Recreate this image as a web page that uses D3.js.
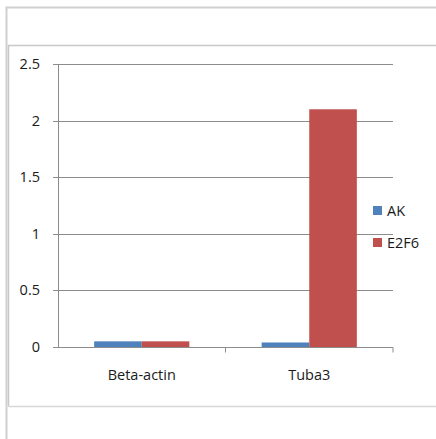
<!DOCTYPE html>
<html>
<head>
<meta charset="utf-8">
<script src="https://cdn.jsdelivr.net/npm/d3@7"></script>
<style>
  body { margin: 0; background: #fff; }
  text { font-family: "Open Sans", "Noto Sans", sans-serif; fill: #1a1a1a; }
</style>
</head>
<body>
<div id="chart"></div>
<script>
var width = 436;
var height = 439;

//Data
var categories = ["Beta-actin", "Tuba3"];
var seriesNames = ["AK", "E2F6"];
var akValues = [0.05, 0.04];
var e2f6Values = [0.05, 2.1];
var yTicks = [0, 0.5, 1, 1.5, 2, 2.5];
var colours = ["#4F81BD", "#C0504D"];

var svg = d3.select("#chart")
  .append("svg")
  .attr("width", width)
  .attr("height", height);

//Outer frame and inner chart area
svg.append("path")
  .attr("d", "M6.5,439 V7.5 H436")
  .attr("fill", "none")
  .attr("stroke", "#d0d0d0")
  .attr("stroke-width", 2);
svg.append("path")
  .attr("d", "M8.5,406.5 V45.5 H436")
  .attr("fill", "none")
  .attr("stroke", "#c8c8c8")
  .attr("stroke-width", 1.5);
svg.append("line")
  .attr("x1", 8.5).attr("x2", 436)
  .attr("y1", 406.5).attr("y2", 406.5)
  .attr("stroke", "#d8d8d8").attr("stroke-width", 1.5);

var plotLeft = 58, plotRight = 393, plotTop = 64, plotBottom = 347;

var x0 = d3.scaleBand()
  .domain(categories)
  .range([plotLeft, plotRight])
  .paddingInner(0)
  .paddingOuter(0);

var x1 = d3.scaleBand()
  .domain(seriesNames)
  .range([0, x0.bandwidth()])
  .paddingInner(0)
  .paddingOuter(0.76);

var y = d3.scaleLinear()
  .domain([0, 2.5])
  .range([plotBottom, plotTop]);

//Gridlines
svg.append("g")
  .selectAll("line")
  .data(yTicks)
  .enter().append("line")
  .attr("x1", plotLeft - 5)
  .attr("x2", plotRight)
  .attr("y1", function(d) { return Math.round(y(d)) + 0.5; })
  .attr("y2", function(d) { return Math.round(y(d)) + 0.5; })
  .attr("stroke", "#8c8c8c")
  .attr("stroke-width", 1);

//Y axis line
svg.append("line")
  .attr("x1", plotLeft + 0.5).attr("x2", plotLeft + 0.5)
  .attr("y1", plotTop).attr("y2", plotBottom)
  .attr("stroke", "#8c8c8c");

//Y labels
svg.append("g")
  .selectAll("text")
  .data(yTicks)
  .enter().append("text")
  .attr("x", 40)
  .attr("y", function(d) { return y(d); })
  .attr("dy", "0.35em")
  .attr("text-anchor", "end")
  .style("font-size", "14.5px")
  .text(function(d) { return d; });

//Bars
var data = categories.map(function(c, i) {
  return { cat: c, vals: [akValues[i], e2f6Values[i]] };
});

var groups = svg.append("g")
  .selectAll("g")
  .data(data)
  .enter().append("g")
  .attr("transform", function(d) { return "translate(" + x0(d.cat) + ",0)"; });

groups.selectAll("rect")
  .data(function(d) { return d.vals.map(function(v, j) { return { name: seriesNames[j], v: v, j: j }; }); })
  .enter().append("rect")
  .attr("x", function(d) { return x1(d.name); })
  .attr("width", x1.bandwidth())
  .attr("y", function(d) { return y(d.v); })
  .attr("height", function(d) { return plotBottom - y(d.v); })
  .attr("fill", function(d) { return colours[d.j]; });

//X axis
var xAxis = d3.axisBottom(x0).tickSize(0).tickPadding(22);
var gx = svg.append("g")
  .attr("transform", "translate(0," + (plotBottom + 0.5) + ")")
  .call(xAxis);
gx.select(".domain").attr("stroke", "#8c8c8c").attr("d", "M" + plotLeft + ",0H" + plotRight);
gx.selectAll("text").style("font-size", "14.5px").attr("fill", "#1a1a1a");
//Category boundary ticks
gx.selectAll(".sep")
  .data([x0(categories[1]), plotRight])
  .enter().append("line")
  .attr("x1", function(d) { return d; })
  .attr("x2", function(d) { return d; })
  .attr("y1", 0).attr("y2", 5)
  .attr("stroke", "#8c8c8c");

//Legend
var legend = svg.append("g")
  .selectAll("g")
  .data(seriesNames)
  .enter().append("g")
  .attr("transform", function(d, i) { return "translate(373," + (210 + i * 32) + ")"; });
legend.append("rect")
  .attr("x", 0).attr("y", -4)
  .attr("width", 9).attr("height", 9)
  .attr("fill", function(d, i) { return colours[i]; });
legend.append("text")
  .attr("x", 14)
  .attr("y", 1)
  .attr("dy", "0.35em")
  .style("font-size", "14.5px")
  .text(function(d) { return d; });
</script>
</body>
</html>
